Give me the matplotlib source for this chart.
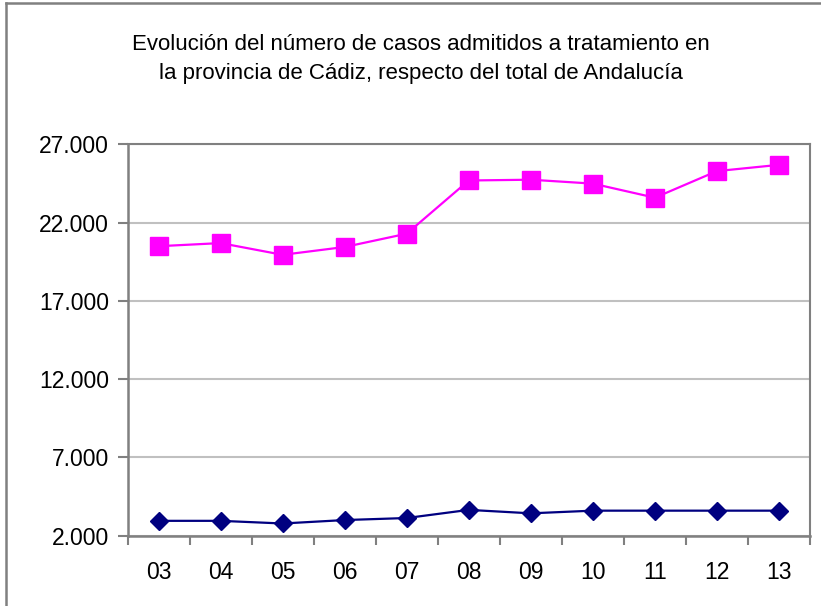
import matplotlib
matplotlib.use('Agg')
import matplotlib.pyplot as plt
from matplotlib.lines import Line2D

# Datos
anios = ['03', '04', '05', '06', '07', '08', '09', '10', '11', '12', '13']
total_andalucia = [20500, 20700, 19950, 20450, 21300, 24700, 24750, 24500, 23600, 25300, 25700]
cadiz = [2950, 2950, 2780, 3000, 3130, 3650, 3430, 3600, 3600, 3600, 3600]
y_ticks = [2000, 7000, 12000, 17000, 22000, 27000]
y_labels = ['2.000', '7.000', '12.000', '17.000', '22.000', '27.000']

plt.rcParams['font.family'] = ['Liberation Sans', 'DejaVu Sans']

W, H = 821, 606
fig = plt.figure(figsize=(W / 100, H / 100), dpi=100)
ax = fig.add_axes([127.5 / W, 1 - 535.7 / H, (810 - 127.5) / W, (535.7 - 144.5) / H])

x = list(range(len(anios)))
ax.plot(x, total_andalucia, color='#FF00FF', marker='s', markersize=12.5, linewidth=1.6, zorder=3)
ax.plot(x, cadiz, color='#000080', marker='D', markersize=9.5, linewidth=1.6, zorder=3)

ax.set_xlim(-0.5, len(anios) - 0.5)
ax.set_ylim(2000, 27000)
ax.set_yticks(y_ticks)
ax.set_yticklabels(y_labels)
ax.set_xticks(x)
ax.set_xticklabels(anios)
ax.set_xticks([i - 0.5 for i in range(len(anios) + 1)], minor=True)
ax.tick_params(axis='x', which='major', length=0, pad=18.5, labelsize=16.5)
ax.tick_params(axis='x', which='minor', length=6.5, width=1.5, color='#808080', direction='out')
ax.tick_params(axis='y', length=7, width=1.5, color='#808080', labelsize=16.5, pad=6.5)

ax.yaxis.grid(True, color='#C0C0C0', linewidth=1.5)
ax.set_axisbelow(True)
for s in ['left', 'bottom']:
    ax.spines[s].set_color('#808080')
    ax.spines[s].set_linewidth(1.8)
for s in ['top', 'right']:
    ax.spines[s].set_color('#808080')
    ax.spines[s].set_linewidth(1.5)

fig.text(421 / W, 1 - 45 / H, 'Evolución del número de casos admitidos a tratamiento en',
         ha='center', va='center', fontsize=16)
fig.text(421 / W, 1 - 73 / H, 'la provincia de Cádiz, respecto del total de Andalucía',
         ha='center', va='center', fontsize=16)

# marco exterior
fig.add_artist(Line2D([6 / W, 6 / W], [0, 1 - 3 / H], color='#808080', linewidth=1.8, transform=fig.transFigure))
fig.add_artist(Line2D([6 / W, 1], [1 - 3 / H, 1 - 3 / H], color='#808080', linewidth=1.8, transform=fig.transFigure))

fig.savefig('out.png', dpi=100)
